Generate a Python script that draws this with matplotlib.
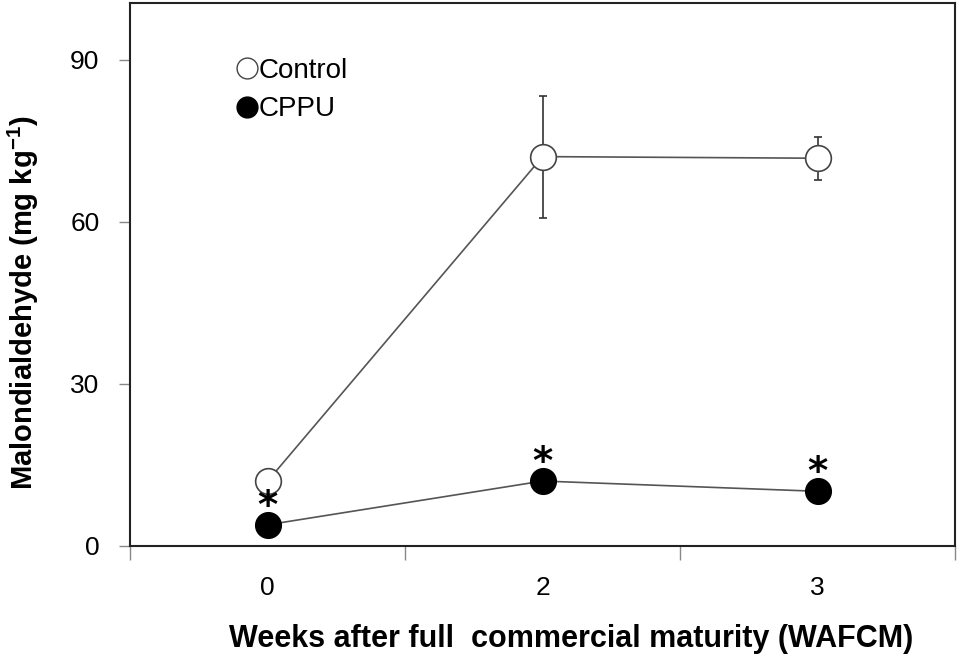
import numpy as np
import matplotlib.pyplot as plt
from matplotlib.lines import Line2D

weeks = ["0", "2", "3"]
control = [12.0, 72.1, 71.8]
control_err = [0.0, 11.3, 4.0]
cppu = [3.9, 12.0, 10.1]
cppu_err = [0.0, 0.0, 0.0]
signif = [True, True, True]

plt.rcParams['font.family'] = ['Liberation Sans Narrow', 'Liberation Sans', 'DejaVu Sans']

fig = plt.figure(figsize=(9.57, 6.6), dpi=100)
ax = fig.add_axes([0.136, 0.173, 0.862, 0.822])

x = np.arange(len(weeks))
line_col = "#555555"

ax.errorbar(x, control, yerr=control_err, fmt="o", color=line_col, ecolor="#333333",
            elinewidth=1.2, capsize=3, capthick=1.2, markersize=18.5,
            markerfacecolor="white", markeredgecolor="#444444", markeredgewidth=1.2,
            linestyle="-", linewidth=1.2, zorder=3)
ax.errorbar(x, cppu, yerr=cppu_err, fmt="o", color=line_col, ecolor="#333333",
            elinewidth=1.2, capsize=0, markersize=18.5,
            markerfacecolor="black", markeredgecolor="black",
            linestyle="-", linewidth=1.2, zorder=3)

# significance stars above the CPPU points
for xi, yi, s in zip(x, cppu, signif):
    if s:
        ax.annotate("*", (xi, yi), xytext=(0, 13), textcoords="offset points",
                    ha="center", va="center", fontsize=28, fontweight="bold",
                    family="DejaVu Sans", zorder=6)

ax.set_xlim(-0.5, 2.5)
ax.set_ylim(0, 100.5)
ax.set_yticks([0, 30, 60, 90])
ax.set_xticks(x)
ax.set_xticklabels(weeks)
ax.set_xticks([-0.5, 0.5, 1.5, 2.5], minor=True)
ax.tick_params(axis="x", which="major", length=0, labelsize=19, pad=22)
ax.tick_params(axis="x", which="minor", length=10, color="#888888", width=1)
ax.tick_params(axis="y", length=8, color="#888888", width=1, labelsize=19, pad=14)

for sp in ax.spines.values():
    sp.set_color("#222222")
    sp.set_linewidth(1.5)

ax.set_ylabel("Malondialdehyde (mg kg$^{\\mathregular{-1}}$)", fontsize=21,
              fontweight="bold")
ax.yaxis.set_label_coords(-0.108, 0.448)
ax.set_xlabel("Weeks after full  commercial maturity (WAFCM)", fontsize=22,
              fontweight="bold")
ax.xaxis.set_label_coords(0.535, -0.144)

handles = [
    Line2D([], [], marker="o", linestyle="none", markersize=15,
           markerfacecolor="white", markeredgecolor="#444444", markeredgewidth=1),
    Line2D([], [], marker="o", linestyle="none", markersize=15,
           markerfacecolor="black", markeredgecolor="black"),
]
ax.legend(handles, ["Control", "CPPU"], loc="upper left", bbox_to_anchor=(0.115, 0.92),
          frameon=False, fontsize=20, handlelength=0.8, handletextpad=0.0,
          labelspacing=0.45, borderaxespad=0)

fig.savefig("out.png", dpi=100)
